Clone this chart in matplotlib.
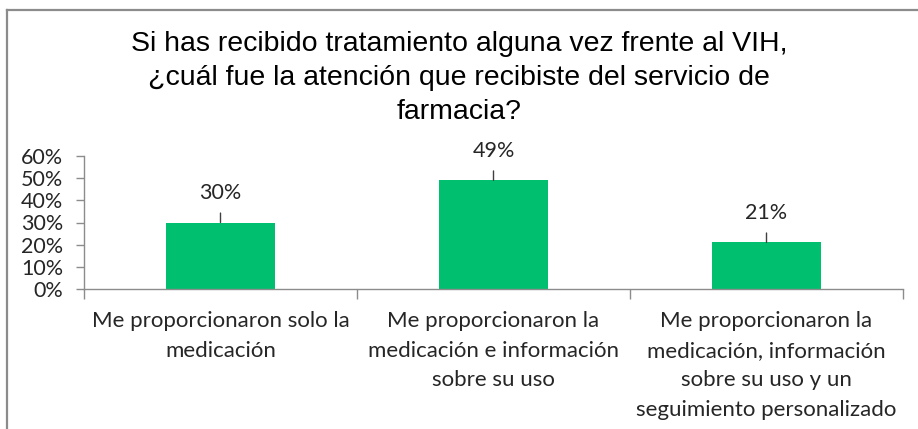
import numpy as np
import matplotlib.pyplot as plt
from matplotlib.lines import Line2D

titulo = "Si has recibido tratamiento alguna vez frente al VIH,\n¿cuál fue la atención que recibiste del servicio de\nfarmacia?"
categorias = [
    "Me proporcionaron solo la\nmedicación",
    "Me proporcionaron la\nmedicación e información\nsobre su uso",
    "Me proporcionaron la\nmedicación, información\nsobre su uso y un\nseguimiento personalizado",
]
valores = [30, 49, 21]
yticks = [0, 10, 20, 30, 40, 50, 60]

verde = "#00BF6F"
gris = "#8C8C8C"
texto = "#262626"

fig = plt.figure(figsize=(9.18, 4.29), dpi=100)
fig.patch.set_facecolor("w")

# marco del gráfico (solo se ven los bordes superior e izquierdo)
fig.add_artist(Line2D([7/918, 7/918], [0, 1 - 10/429], transform=fig.transFigure, color=gris, lw=1.6))
fig.add_artist(Line2D([7/918, 1], [1 - 10/429, 1 - 10/429], transform=fig.transFigure, color=gris, lw=1.6))

ax = fig.add_axes([84/918, 1 - 289/429, (903 - 84)/918, (289 - 156)/429])
x = np.arange(len(valores))
ax.bar(x, valores, width=0.4, color=verde)

ax.set_xlim(-0.5, len(valores) - 0.5)
ax.set_ylim(0, 60)
ax.set_yticks(yticks)
ax.set_yticklabels([f"{v}%" for v in yticks], fontsize=15.5, family="Lato", color=texto)

ax.set_xticks(x)
ax.set_xticklabels(categorias, fontsize=16, family="Lato", color=texto, linespacing=1.6)
ax.tick_params(axis="x", length=0, pad=16)
ax.set_xticks(np.arange(len(valores) + 1) - 0.5, minor=True)
ax.tick_params(axis="x", which="minor", length=7, color=gris, width=1)
ax.tick_params(axis="y", length=6, color=gris, width=1, pad=9)

for s in ["top", "right"]:
    ax.spines[s].set_visible(False)
for s in ["left", "bottom"]:
    ax.spines[s].set_color(gris)
    ax.spines[s].set_linewidth(1)

for i, v in enumerate(valores):
    ax.annotate(f"{v}%", xy=(i, v), xytext=(0, 21), textcoords="offset points",
                ha="center", va="center", fontsize=15.5, family="Lato", color=texto,
                arrowprops=dict(arrowstyle="-", color="#404040", lw=1, shrinkA=5, shrinkB=0))

fig.text(0.5, 1 - 78/429, titulo, ha="center", va="center", fontsize=20.5,
         family="Liberation Sans", color="black", linespacing=1.38)

fig.savefig("out.png", dpi=100)
